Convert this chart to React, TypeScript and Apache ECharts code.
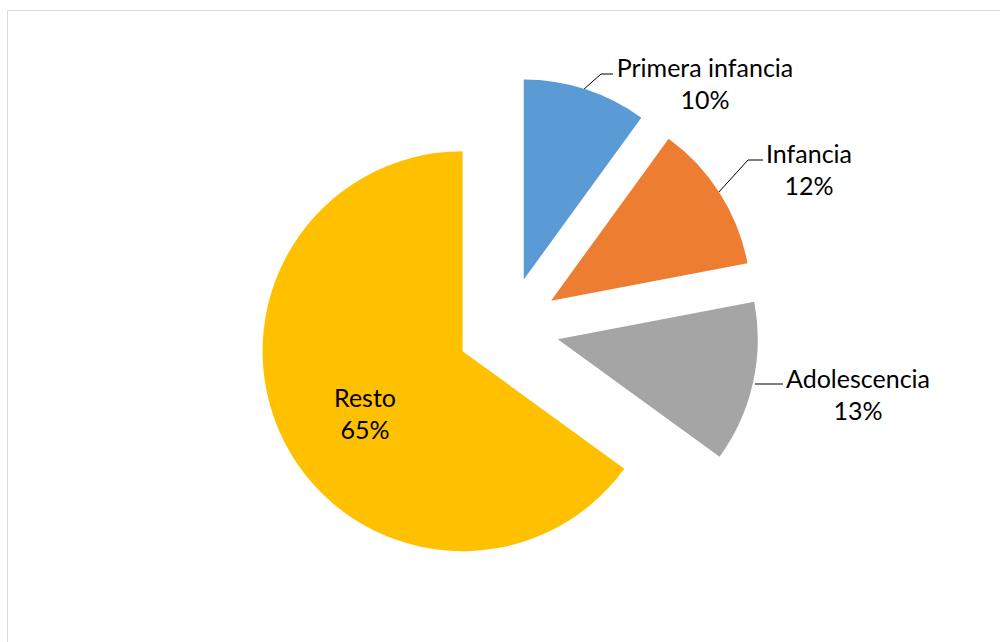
import React, { useEffect, useRef } from "react";
import * as echarts from "echarts";

const categories = ["Primera infancia", "Infancia", "Adolescencia", "Resto"];
const values = [10, 12, 13, 65];
const colors = ["#5B9BD5", "#ED7D31", "#A5A5A5", "#FFC000"];

// label block (x center, y top) and leader-line points
const labelPos = [
  { x: 705, y: 51, line: [[583, 90], [601, 74], [613, 74]] },
  { x: 809, y: 137, line: [[718, 193], [748, 160], [763, 160]] },
  { x: 858, y: 362, line: [[755, 384], [768, 384], [783, 384]] },
  { x: 365, y: 381, line: null as any },
];

export default function App() {
  const ref = useRef<HTMLDivElement>(null);
  useEffect(() => {
    if (!ref.current) return;
    const chart = echarts.init(ref.current, null, { renderer: "svg" });
    const sliceData = categories.map((name, i) => ({
      name,
      value: values[i],
      selected: true,
      itemStyle: { color: colors[i] },
    }));
    const labelData = categories.map((name, i) => ({
      name,
      value: values[i],
      labelLine: { show: i !== 3 },
    }));
    chart.setOption({
      animation: false,
      backgroundColor: "#ffffff",
      graphic: [
        {
          type: "rect",
          shape: { x: 7.5, y: 10.5, width: 1000, height: 700 },
          style: { fill: "none", stroke: "#D9D9D9", lineWidth: 1 },
          silent: true,
        },
      ],
      series: [
        {
          type: "pie",
          center: [508, 328],
          radius: [0, 200],
          startAngle: 90,
          clockwise: true,
          selectedMode: "multiple",
          selectedOffset: 51,
          emphasis: { disabled: true },
          silent: true,
          label: { show: false },
          labelLine: { show: false },
          data: sliceData,
        },
        {
          type: "pie",
          center: [508, 328],
          radius: [0, 200],
          startAngle: 90,
          clockwise: true,
          selectedMode: false,
          silent: true,
          emphasis: { disabled: true },
          avoidLabelOverlap: false,
          itemStyle: { color: "rgba(0,0,0,0)" },
          data: labelData,
          label: {
            show: true,
            position: "outside",
            formatter: "{b}\n{d}%",
            fontFamily: "Lato",
            fontSize: 25,
            lineHeight: 32,
            color: "#000000",
            align: "center",
          },
          labelLine: {
            show: true,
            lineStyle: { color: "#000000", width: 1 },
          },
          labelLayout: (params: any) => {
            const p = labelPos[params.dataIndex];
            const res: any = {
              x: p.x,
              y: p.y,
              align: "center",
              verticalAlign: "top",
            };
            if (p.line) res.labelLinePoints = p.line;
            return res;
          },
        },
      ],
    });
    return () => chart.dispose();
  }, []);
  return (
    <div
      ref={ref}
      style={{ position: "fixed", left: 0, top: 0, width: 1000, height: 642 }}
    />
  );
}
